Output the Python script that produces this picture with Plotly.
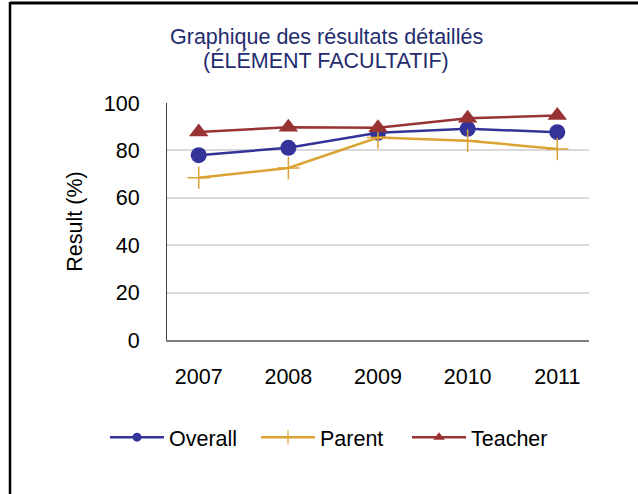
import plotly.graph_objects as go

# Survey years and results (%) per respondent group
years = ["2007", "2008", "2009", "2010", "2011"]
overall = [78.0, 81.1, 87.4, 89.1, 87.7]
parent = [68.5, 72.6, 85.4, 84.1, 80.6]
teacher = [87.8, 89.8, 89.6, 93.6, 94.7]

title_lines = ["Graphique des résultats détaillés", "(ÉLÉMENT FACULTATIF)"]

FONT = "Liberation Sans, Arial, sans-serif"
FS = 21.5

series = [
    ("Overall", overall, "#333399", "circle", 16, 9),
    ("Parent", parent, "#DBA234", "cross-thin", 16, 10),
    ("Teacher", teacher, "#993333", "triangle-up", 17, 10),
]

fig = go.Figure()
for name, values, color, symbol, size, legend_size in series:
    mk = dict(symbol=symbol, size=size, color=color)
    lg = dict(symbol=symbol, size=legend_size, color=color)
    if symbol == "cross-thin":
        mk["line"] = dict(color=color, width=1.5)
        lg["line"] = dict(color=color, width=1.2)
    # plotted series
    fig.add_trace(go.Scatter(
        x=years, y=values, name=name, mode="lines+markers",
        line=dict(color=color, width=2.5), marker=mk, showlegend=False,
    ))
    # legend entry with a smaller marker glyph
    fig.add_trace(go.Scatter(
        x=[None], y=[None], name=name, mode="lines+markers",
        line=dict(color=color, width=2.5), marker=lg,
    ))

# two-line chart heading, placed as separate lines for tighter spacing
annotations = [
    dict(text=line, xref="paper", yref="paper",
         x=(326 - 167) / 422, y=(340 - ypx) / 237,
         xanchor="center", yanchor="middle", showarrow=False,
         font=dict(family=FONT, size=FS, color="#1F2D6E"))
    for line, ypx in zip(title_lines, [37, 60])
]

fig.update_layout(
    width=638, height=494,
    margin=dict(l=167, r=49, t=103, b=154, autoexpand=False),
    paper_bgcolor="white", plot_bgcolor="white",
    font=dict(family=FONT, size=FS, color="black"),
    annotations=annotations,
    xaxis=dict(
        type="category", showgrid=False,
        showline=True, linecolor="#808080", linewidth=1.5,
        ticks="", ticklabelstandoff=16,
        tickfont=dict(size=FS),
    ),
    yaxis=dict(
        range=[0, 100], dtick=20, tick0=0,
        showgrid=True, gridcolor="#D9D9D9", gridwidth=1.5,
        showline=True, linecolor="#404040", linewidth=1,
        zeroline=False, ticks="", ticklabelstandoff=22,
        tickfont=dict(size=FS),
        title=dict(text="Result (%)", font=dict(size=FS), standoff=15),
    ),
    legend=dict(
        orientation="h", x=(105 - 167) / 422, xanchor="left",
        y=-0.41, yanchor="middle",
        font=dict(size=FS), itemwidth=54, entrywidth=82,
    ),
    shapes=[
        # frame lines along the top and left edges
        dict(type="line", xref="paper", yref="paper",
             x0=(10 - 167) / 422, x1=(640 - 167) / 422,
             y0=(340 - 3) / 237, y1=(340 - 3) / 237,
             line=dict(color="black", width=3)),
        dict(type="line", xref="paper", yref="paper",
             x0=(10 - 167) / 422, x1=(10 - 167) / 422,
             y0=(340 - 2) / 237, y1=(340 - 496) / 237,
             line=dict(color="black", width=2.5)),
    ],
)

fig.write_html("out.html")
